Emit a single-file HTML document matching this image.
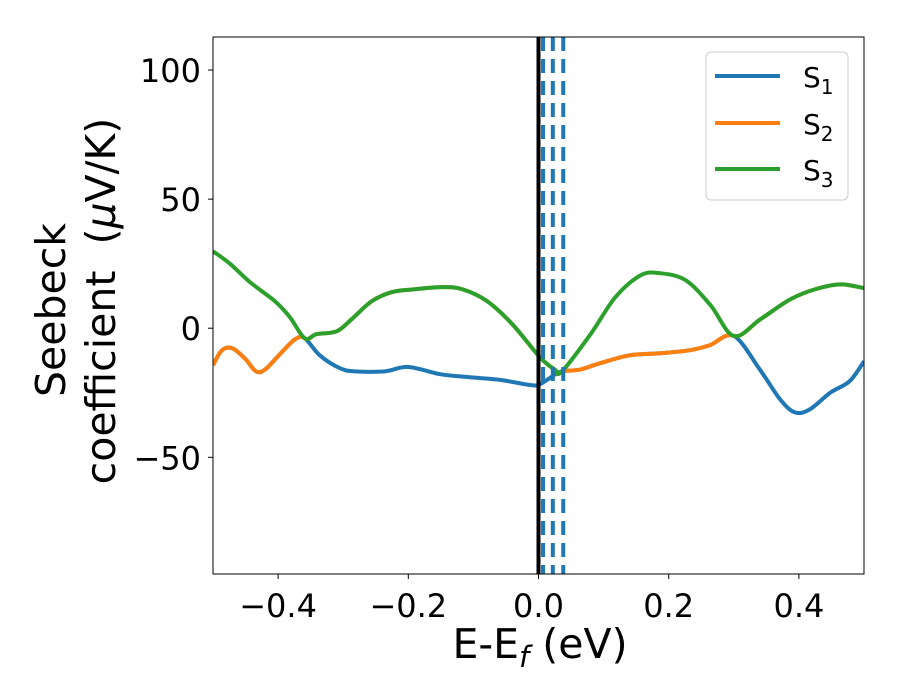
<!DOCTYPE html>
<html><head><meta charset="utf-8"><style>
body{margin:0;background:#fff;}
svg{display:block;font-family:"DejaVu Sans","Liberation Sans",sans-serif;}
</style></head><body>
<svg id="chart" width="900" height="700">
<rect x="0" y="0" width="900" height="700" fill="#fff"/>
<defs><clipPath id="clip"><rect x="213" y="37" width="651" height="537"/></clipPath></defs>
<g id="plot" clip-path="url(#clip)"></g>
<rect x="213" y="37" width="651" height="537" fill="none" stroke="#000" stroke-width="1"/>
<g id="axes"></g>
<text x="540" y="658" font-size="41" text-anchor="middle">E-E<tspan font-style="italic" font-size="29" dy="9">f</tspan><tspan dy="-9"> (eV)</tspan></text>
<text transform="translate(65,310) rotate(-90)" font-size="41" text-anchor="middle">Seebeck</text>
<text transform="translate(115,301) rotate(-90)" font-size="41" text-anchor="middle">coefficient&#160; (<tspan font-style="italic">μ</tspan>V/K)</text>
<g>
<rect x="706" y="52" width="142" height="148" rx="5" fill="#fff" stroke="#ccc" stroke-width="1"/>
<line x1="715" y1="76" x2="780" y2="76" stroke="#1f77b4" stroke-width="4"/>
<text x="803" y="87" font-size="28">S<tspan font-size="20" dy="7">1</tspan></text>
<line x1="715" y1="123" x2="780" y2="123" stroke="#ff7f0e" stroke-width="4"/>
<text x="803" y="134" font-size="28">S<tspan font-size="20" dy="7">2</tspan></text>
<line x1="715" y1="169" x2="780" y2="169" stroke="#2ca02c" stroke-width="4"/>
<text x="803" y="180" font-size="28">S<tspan font-size="20" dy="7">3</tspan></text>
</g>
</svg>
<script>
const lowX = [-0.5,-0.486,-0.47,-0.45,-0.434,-0.42,-0.397,-0.374,-0.359,-0.336,-0.305,-0.282,-0.236,-0.2,-0.151,-0.105,-0.059,-0.013,0.002,0.025,0.036,0.064,0.094,0.14,0.187,0.233,0.263,0.3,0.34,0.371,0.394,0.417,0.448,0.478,0.5];
const lowY = [-14.3,-8.5,-7.8,-12,-16.7,-16,-10,-4.3,-3.9,-10.5,-15.5,-16.7,-16.7,-15,-17.8,-19,-20,-22,-21.7,-18,-16.7,-16,-13.6,-10.5,-9.7,-8.5,-6.6,-3,-16,-27.5,-32.6,-31.4,-25,-20.5,-12.8];
const highX = [-0.5,-0.474,-0.443,-0.405,-0.382,-0.359,-0.341,-0.31,-0.287,-0.256,-0.225,-0.194,-0.148,-0.117,-0.079,-0.04,0.002,0.025,0.036,0.08,0.118,0.157,0.187,0.226,0.264,0.3,0.341,0.387,0.425,0.464,0.5];
const highY = [29.8,25,17.8,10.5,4.3,-3.9,-2.3,-1.2,3.5,10.5,14,15,15.9,15.1,10.5,1.5,-11.2,-16,-16.7,-2.3,12,20.5,21.3,18.6,9,-3,3.5,11.2,15.1,17,15.5];
// S2 follows the low branch where it equals S1, high branch where it equals S3
const s2Segments = [["low",-0.5,-0.359],["high",-0.359,0.036],["low",0.036,0.3],["high",0.3,0.5]];
const dashedX = [0.007,0.022,0.038];
const xTicks = [-0.4,-0.2,0.0,0.2,0.4];
const xTickLabels = ["\u22120.4","\u22120.2","0.0","0.2","0.4"];
const yTicks = [100,50,0,-50];
const yTickLabels = ["100","50","0","\u221250"];

const X0=213,X1=864,Y0=37,Y1=574;
const xMin=-0.5,xMax=0.5,yMin=-95.2,yMax=112.8;
const sx=v=>X0+(v-xMin)/(xMax-xMin)*(X1-X0);
const sy=v=>Y1-(v-yMin)/(yMax-yMin)*(Y1-Y0);
const NS="http://www.w3.org/2000/svg";
const plot=document.getElementById('plot'), axes=document.getElementById('axes');
const defs=document.querySelector('defs');

function pathFrom(xs,ys){
  const p=xs.map((x,i)=>[sx(x),sy(ys[i])]);
  let d=`M${p[0][0]},${p[0][1]}`;
  for(let i=0;i<p.length-1;i++){
    const a=p[Math.max(i-1,0)],b=p[i],c=p[i+1],e=p[Math.min(i+2,p.length-1)];
    const c1=[b[0]+(c[0]-a[0])/6,b[1]+(c[1]-a[1])/6],c2=[c[0]-(e[0]-b[0])/6,c[1]-(e[1]-b[1])/6];
    d+=` C${c1[0]},${c1[1]} ${c2[0]},${c2[1]} ${c[0]},${c[1]}`;
  }
  return d;
}
function addPath(d,color,name,clipId){
  const el=document.createElementNS(NS,'path');
  el.setAttribute('d',d);el.setAttribute('fill','none');el.setAttribute('stroke',color);
  el.setAttribute('stroke-width','4');el.setAttribute('stroke-linejoin','round');
  if(clipId) el.setAttribute('clip-path',`url(#${clipId})`);
  
  
  plot.appendChild(el);
}
const lowD=pathFrom(lowX,lowY), highD=pathFrom(highX,highY);
addPath(lowD,'#1f77b4','series-s1');
s2Segments.forEach((s,i)=>{
  const cp=document.createElementNS(NS,'clipPath');cp.setAttribute('id','s2c'+i);
  const r=document.createElementNS(NS,'rect');
  r.setAttribute('x',sx(s[1]));r.setAttribute('width',sx(s[2])-sx(s[1]));r.setAttribute('y',0);r.setAttribute('height',700);
  cp.appendChild(r);defs.appendChild(cp);
  addPath(s[0]==="low"?lowD:highD,'#ff7f0e','series-s2','s2c'+i);
});
addPath(highD,'#2ca02c','series-s3');

const vl=document.createElementNS(NS,'line');
vl.setAttribute('x1',sx(0));vl.setAttribute('x2',sx(0));vl.setAttribute('y1',Y0);vl.setAttribute('y2',Y1);
vl.setAttribute('stroke','#000');vl.setAttribute('stroke-width','4');


plot.appendChild(vl);
dashedX.forEach(v=>{
  const l=document.createElementNS(NS,'line');
  l.setAttribute('x1',sx(v));l.setAttribute('x2',sx(v));l.setAttribute('y1',Y0);l.setAttribute('y2',Y1);
  l.setAttribute('stroke','#1f77b4');l.setAttribute('stroke-width','4');l.setAttribute('stroke-dasharray','14 8');
  
  
  plot.appendChild(l);
});

xTicks.forEach((v,i)=>{
  const t=document.createElementNS(NS,'line');
  t.setAttribute('x1',sx(v));t.setAttribute('x2',sx(v));t.setAttribute('y1',Y1);t.setAttribute('y2',Y1+5);t.setAttribute('stroke','#000');
  
  
  axes.appendChild(t);
  const tx=document.createElementNS(NS,'text');
  tx.setAttribute('x',sx(v));tx.setAttribute('y',Y1+43);tx.setAttribute('font-size','32');tx.setAttribute('text-anchor','middle');
  tx.textContent=xTickLabels[i];
  
  
  axes.appendChild(tx);
});
yTicks.forEach((v,i)=>{
  const t=document.createElementNS(NS,'line');
  t.setAttribute('x1',X0-5);t.setAttribute('x2',X0);t.setAttribute('y1',sy(v));t.setAttribute('y2',sy(v));t.setAttribute('stroke','#000');
  
  
  axes.appendChild(t);
  const tx=document.createElementNS(NS,'text');
  tx.setAttribute('x',X0-12);tx.setAttribute('y',sy(v)+12);tx.setAttribute('font-size','32');tx.setAttribute('text-anchor','end');
  tx.textContent=yTickLabels[i];
  
  
  axes.appendChild(tx);
});
</script>
</body></html>
